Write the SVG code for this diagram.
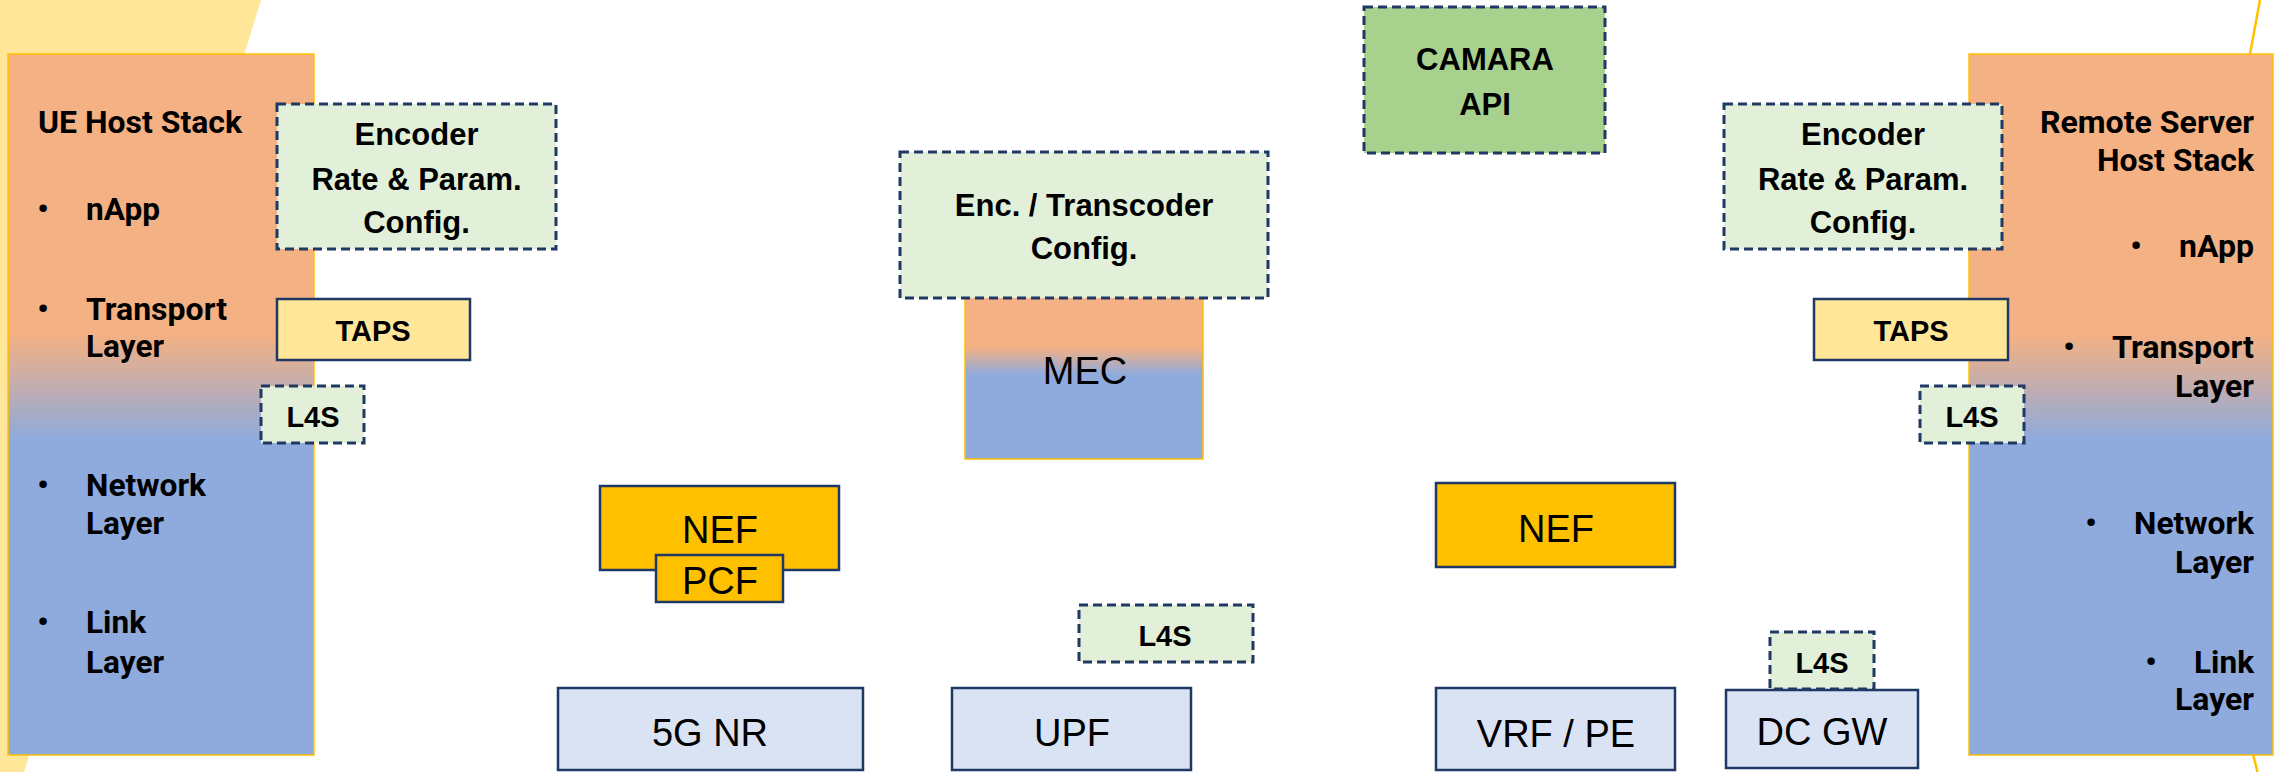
<svg xmlns="http://www.w3.org/2000/svg" width="2275" height="772" viewBox="0 0 2275 772">
  <defs>
    <!-- host stacks: application/transport (orange) over network/link (blue) -->
    <linearGradient id="stackFill" x1="0" y1="0" x2="0" y2="1">
      <stop offset="0" stop-color="#F4B183"/>
      <stop offset="0.40" stop-color="#F4B183"/>
      <stop offset="0.55" stop-color="#8FAADC"/>
      <stop offset="1" stop-color="#8FAADC"/>
    </linearGradient>
    <linearGradient id="mecFill" x1="0" y1="0" x2="0" y2="1">
      <stop offset="0" stop-color="#F4B183"/>
      <stop offset="0.31" stop-color="#F4B183"/>
      <stop offset="0.48" stop-color="#8FAADC"/>
      <stop offset="1" stop-color="#8FAADC"/>
    </linearGradient>
    <style>
      .stack { fill: url(#stackFill); stroke: #FFC000; stroke-width: 1.5; }
      .cfg { fill: #E2F0D9; stroke: #1F3864; stroke-width: 3; stroke-dasharray: 9 5; }
      .api { fill: #A9D18E; stroke: #1F3864; stroke-width: 3; stroke-dasharray: 9 5; }
      .taps { fill: #FFE699; stroke: #1F3864; stroke-width: 2.5; }
      .nf { fill: #FFC000; stroke: #1F3864; stroke-width: 2.5; }
      .ran { fill: #DAE3F3; stroke: #1F3864; stroke-width: 2.5; }
      .lbl { font-family: Roboto, "Liberation Sans", sans-serif; font-weight: 700; font-size: 32px; fill: #000; }
      .dot { font-family: Roboto, "Liberation Sans", sans-serif; font-weight: 700; font-size: 32px; text-anchor: middle; fill: #000; }
      .b { font-family: "Liberation Sans", Arial, sans-serif; font-weight: 700; font-size: 31px; text-anchor: middle; fill: #000; }
      .bs { font-family: "Liberation Sans", Arial, sans-serif; font-weight: 700; font-size: 29px; text-anchor: middle; fill: #000; }
      .r { font-family: "Liberation Sans", Arial, sans-serif; font-size: 38px; text-anchor: middle; fill: #000; }
    </style>
  </defs>

  <!-- background decoration -->
  <g id="background">
    <rect x="0" y="0" width="2275" height="772" fill="#FFFFFF"/>
    <polygon points="0,0 261,0 24,772 0,772" fill="#FFE699"/>
    <path d="M2260,0 L2248.5,62 L2249.5,740 L2257.5,772" fill="none" stroke="#FFC000" stroke-width="2.5"/>
  </g>

  <!-- UE host stack -->
  <g id="ue-stack">
    <rect class="stack" x="8" y="54" width="306" height="701"/>
    <text class="lbl" x="38" y="133" textLength="204" lengthAdjust="spacingAndGlyphs">UE Host Stack</text>
    <text class="dot" x="43" y="220">•</text>
    <text class="lbl" x="86" y="220" textLength="74" lengthAdjust="spacingAndGlyphs">nApp</text>
    <text class="dot" x="43" y="320">•</text>
    <text class="lbl" x="86" y="320" textLength="141" lengthAdjust="spacingAndGlyphs">Transport</text>
    <text class="lbl" x="86" y="357" textLength="78" lengthAdjust="spacingAndGlyphs">Layer</text>
    <text class="dot" x="43" y="496">•</text>
    <text class="lbl" x="86" y="496" textLength="120" lengthAdjust="spacingAndGlyphs">Network</text>
    <text class="lbl" x="86" y="534" textLength="78" lengthAdjust="spacingAndGlyphs">Layer</text>
    <text class="dot" x="43" y="633">•</text>
    <text class="lbl" x="86" y="633" textLength="60" lengthAdjust="spacingAndGlyphs">Link</text>
    <text class="lbl" x="86" y="673" textLength="78" lengthAdjust="spacingAndGlyphs">Layer</text>
  </g>

  <g id="ue-encoder">
    <rect class="cfg" x="277" y="104" width="279" height="145"/>
    <text class="b" x="416.5" y="145">Encoder</text>
    <text class="b" x="416.5" y="190">Rate &amp; Param.</text>
    <text class="b" x="416.5" y="233">Config.</text>
  </g>

  <g id="ue-taps">
    <rect class="taps" x="277" y="299" width="193" height="61"/>
    <text class="bs" x="373" y="341">TAPS</text>
  </g>

  <g id="ue-l4s">
    <rect class="cfg" x="261" y="386" width="103" height="57"/>
    <text class="bs" x="313" y="427">L4S</text>
  </g>

  <!-- edge compute -->
  <g id="mec">
    <rect x="965" y="297" width="238" height="162" fill="url(#mecFill)" stroke="#FFC000" stroke-width="1.5"/>
    <text class="r" x="1085" y="384" font-size="40">MEC</text>
  </g>

  <g id="transcoder">
    <rect class="cfg" x="900" y="152" width="368" height="146"/>
    <text class="b" x="1084" y="216">Enc. / Transcoder</text>
    <text class="b" x="1084" y="259">Config.</text>
  </g>

  <g id="camara-api">
    <rect class="api" x="1364" y="7" width="241" height="146"/>
    <text class="b" x="1485" y="70">CAMARA</text>
    <text class="b" x="1485" y="115">API</text>
  </g>

  <!-- mobile core -->
  <g id="nef-left">
    <rect class="nf" x="600" y="486" width="239" height="84"/>
    <text class="r" x="720" y="543">NEF</text>
  </g>

  <g id="pcf">
    <rect class="nf" x="656" y="555" width="127" height="47"/>
    <text class="r" x="720" y="594">PCF</text>
  </g>

  <g id="nef-right">
    <rect class="nf" x="1436" y="483" width="239" height="84"/>
    <text class="r" x="1556" y="542">NEF</text>
  </g>

  <g id="upf-l4s">
    <rect class="cfg" x="1079" y="605" width="174" height="57"/>
    <text class="bs" x="1165" y="646">L4S</text>
  </g>

  <!-- transport path -->
  <g id="nr">
    <rect class="ran" x="558" y="688" width="305" height="82"/>
    <text class="r" x="710" y="746">5G NR</text>
  </g>

  <g id="upf">
    <rect class="ran" x="952" y="688" width="239" height="82"/>
    <text class="r" x="1072" y="746">UPF</text>
  </g>

  <g id="vrf-pe">
    <rect class="ran" x="1436" y="688" width="239" height="82"/>
    <text class="r" x="1556" y="747">VRF / PE</text>
  </g>

  <g id="dcgw-l4s">
    <rect class="cfg" x="1770" y="632" width="104" height="57"/>
    <text class="bs" x="1822" y="673">L4S</text>
  </g>

  <g id="dc-gw">
    <rect class="ran" x="1726" y="690" width="192" height="78"/>
    <text class="r" x="1822" y="745">DC GW</text>
  </g>

  <!-- remote server host stack -->
  <g id="server-stack">
    <rect class="stack" x="1969" y="54" width="304" height="701"/>
    <text class="lbl" x="2040" y="133" textLength="214" lengthAdjust="spacingAndGlyphs">Remote Server</text>
    <text class="lbl" x="2097" y="171" textLength="157" lengthAdjust="spacingAndGlyphs">Host Stack</text>
    <text class="dot" x="2136" y="257">•</text>
    <text class="lbl" x="2179" y="257" textLength="75" lengthAdjust="spacingAndGlyphs">nApp</text>
    <text class="dot" x="2069" y="358">•</text>
    <text class="lbl" x="2112" y="358" textLength="142" lengthAdjust="spacingAndGlyphs">Transport</text>
    <text class="lbl" x="2175" y="397" textLength="79" lengthAdjust="spacingAndGlyphs">Layer</text>
    <text class="dot" x="2091" y="534">•</text>
    <text class="lbl" x="2134" y="534" textLength="120" lengthAdjust="spacingAndGlyphs">Network</text>
    <text class="lbl" x="2175" y="573" textLength="79" lengthAdjust="spacingAndGlyphs">Layer</text>
    <text class="dot" x="2151" y="673">•</text>
    <text class="lbl" x="2194" y="673" textLength="60" lengthAdjust="spacingAndGlyphs">Link</text>
    <text class="lbl" x="2175" y="710" textLength="79" lengthAdjust="spacingAndGlyphs">Layer</text>
  </g>

  <g id="server-encoder">
    <rect class="cfg" x="1724" y="104" width="278" height="145"/>
    <text class="b" x="1863" y="145">Encoder</text>
    <text class="b" x="1863" y="190">Rate &amp; Param.</text>
    <text class="b" x="1863" y="233">Config.</text>
  </g>

  <g id="server-taps">
    <rect class="taps" x="1814" y="299" width="194" height="61"/>
    <text class="bs" x="1911" y="341">TAPS</text>
  </g>

  <g id="server-l4s">
    <rect class="cfg" x="1920" y="386" width="104" height="57"/>
    <text class="bs" x="1972" y="427">L4S</text>
  </g>
</svg>
